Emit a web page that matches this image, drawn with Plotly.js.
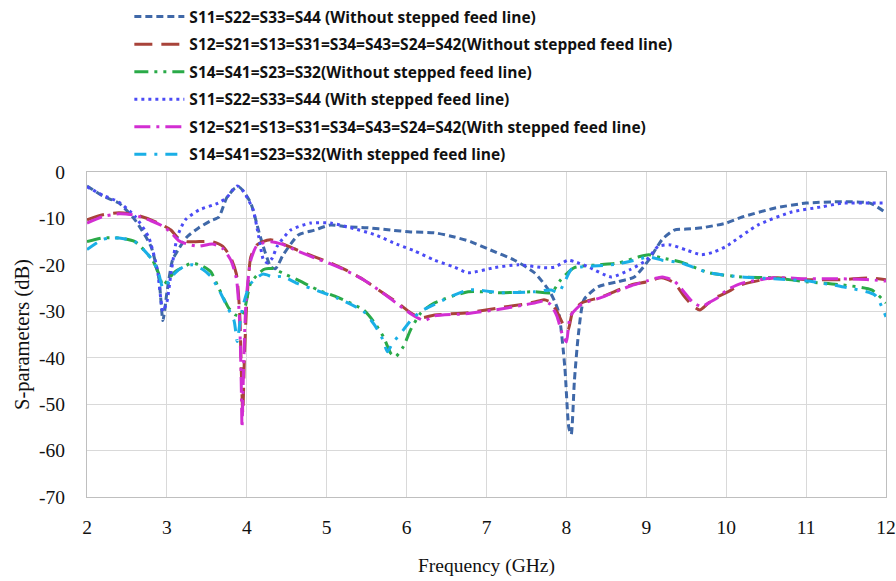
<!DOCTYPE html>
<html>
<head>
<meta charset="utf-8">
<script src="https://cdn.plot.ly/plotly-3.0.1.min.js"></script>
<style>html,body{margin:0;padding:0;background:#fff;}#chart{width:896px;height:581px;}</style>
</head>
<body>
<div id="chart"></div>
<script>
// S11=S22=S33=S44 (Without stepped feed line)
const s11aX = [2.0, 2.2, 2.4, 2.6, 2.8, 2.9, 2.95, 3.0, 3.07, 3.15, 3.25, 3.4, 3.55, 3.65, 3.75, 3.85, 3.9, 3.95, 4.05, 4.17, 4.3, 4.36, 4.45, 4.55, 4.65, 4.85, 5.05, 5.25, 5.5, 5.8, 6.05, 6.35, 6.6, 6.8, 7.05, 7.35, 7.6, 7.8, 7.9, 7.98, 8.03, 8.06, 8.1, 8.15, 8.22, 8.4, 8.65, 8.85, 9.03, 9.2, 9.35, 9.5, 9.7, 10.0, 10.2, 10.6, 11.0, 11.45, 11.8, 12.0];
const s11aY = [-3, -5.2, -6.7, -10.3, -16, -23, -32, -26, -19, -16.5, -14, -12, -10.5, -9.7, -5.5, -3.5, -3.2, -4, -6.7, -14, -20.4, -20.8, -18, -15.5, -13.5, -12.5, -11.4, -11.8, -12, -12.5, -12.9, -13.1, -14, -15, -16.8, -19, -21.7, -26, -30, -42, -55, -56.5, -45, -35, -27.5, -24.7, -23.6, -22.6, -19, -14.5, -12.5, -12.3, -12, -11, -9.7, -7.8, -6.7, -6.4, -6.7, -8.8];

// S12=S21=S13=S31=S34=S43=S24=S42 (Without stepped feed line)
const s12aX = [2.0, 2.2, 2.4, 2.6, 2.8, 2.94, 3.05, 3.14, 3.25, 3.36, 3.57, 3.7, 3.8, 3.87, 3.91, 3.93, 3.95, 3.97, 4.0, 4.05, 4.12, 4.2, 4.3, 4.45, 4.63, 4.85, 5.05, 5.25, 5.46, 5.7, 5.89, 6.05, 6.18, 6.35, 6.77, 7.18, 7.45, 7.6, 7.72, 7.8, 7.88, 7.95, 8.02, 8.08, 8.19, 8.44, 8.81, 9.0, 9.19, 9.35, 9.48, 9.58, 9.67, 9.76, 9.86, 10.0, 10.19, 10.6, 11.03, 11.45, 11.79, 12.0];
const s12aY = [-10.3, -9.2, -8.8, -9.2, -10.3, -11.4, -12.5, -14.2, -15, -15, -15, -16, -18.5, -22, -30, -42, -52, -40, -28, -18.3, -15.8, -15, -14.6, -15.5, -16.8, -18.3, -19.6, -21.2, -23.2, -26, -28.2, -30.3, -31.4, -30.8, -30.3, -29.2, -28.5, -28, -27.5, -28, -30, -32.5, -34, -30, -28.2, -26.9, -24.3, -23.7, -22.8, -23.9, -26.9, -28.8, -29.7, -28.5, -27.1, -26, -24.3, -22.8, -23.2, -23.2, -22.8, -23.2];

// S14=S41=S23=S32 (Without stepped feed line)
const s14aX = [2.0, 2.2, 2.4, 2.6, 2.82, 2.9, 2.95, 3.0, 3.1, 3.2, 3.32, 3.45, 3.55, 3.64, 3.77, 3.86, 3.92, 3.97, 4.05, 4.21, 4.33, 4.45, 4.63, 4.89, 5.14, 5.46, 5.6, 5.71, 5.8, 5.86, 5.96, 6.05, 6.18, 6.35, 6.77, 7.18, 7.6, 7.81, 7.93, 8.1, 8.4, 8.65, 8.9, 9.03, 9.19, 9.44, 9.78, 10.19, 10.6, 11.03, 11.45, 11.82, 12.0];
const s14aY = [-15, -14.2, -14.2, -15, -19, -22, -24.5, -23.5, -21.5, -20.5, -19.6, -20.3, -21.5, -24.7, -29.2, -30.8, -31, -29.7, -23.9, -21, -20.8, -21.8, -23.2, -25.4, -27, -29.7, -32.5, -35.5, -39, -39.8, -37.6, -34, -30.3, -28.2, -25.8, -26, -25.8, -26, -23.2, -20.6, -20, -19.6, -18.3, -17.8, -18.5, -19.4, -21.7, -22.6, -22.8, -23.7, -24.3, -25.4, -28.2];

// S11=S22=S33=S44 (With stepped feed line)
const s11bX = [2.0, 2.2, 2.4, 2.6, 2.77, 2.88, 2.95, 3.0, 3.05, 3.13, 3.23, 3.4, 3.64, 3.75, 3.82, 3.88, 3.95, 4.02, 4.08, 4.15, 4.21, 4.26, 4.32, 4.38, 4.55, 4.8, 5.05, 5.3, 5.6, 5.9, 6.1, 6.35, 6.6, 6.77, 7.1, 7.4, 7.72, 7.85, 8.02, 8.1, 8.27, 8.56, 8.8, 9.0, 9.15, 9.3, 9.5, 9.69, 9.85, 10.0, 10.4, 10.82, 11.2, 11.45, 11.8, 12.0];
const s11bY = [-3.2, -5, -6.5, -9.5, -14, -21, -30, -28, -22, -14, -10.3, -8.2, -6.7, -5.5, -3.9, -3, -4, -6, -8.2, -14, -19, -19.6, -18.5, -16, -12.5, -11, -11, -12, -13.5, -15.7, -17, -19, -20.5, -21.7, -20.6, -20, -20.6, -20.5, -19, -19.3, -20.4, -22.6, -21, -19, -16, -15.7, -16.8, -17.8, -17.2, -16, -11.4, -8.6, -7.5, -6.7, -6.7, -6.7];

// S12=S21=S13=S31=S34=S43=S24=S42 (With stepped feed line)
const s12bX = [2.0, 2.2, 2.4, 2.6, 2.8, 2.94, 3.05, 3.15, 3.29, 3.4, 3.57, 3.7, 3.8, 3.87, 3.91, 3.93, 3.94, 3.96, 3.99, 4.05, 4.12, 4.2, 4.3, 4.45, 4.63, 4.85, 5.05, 5.25, 5.46, 5.7, 5.89, 6.05, 6.22, 6.35, 6.77, 7.18, 7.45, 7.6, 7.72, 7.8, 7.88, 7.95, 8.0, 8.05, 8.19, 8.44, 8.81, 9.0, 9.2, 9.35, 9.48, 9.58, 9.69, 9.8, 9.9, 10.0, 10.19, 10.6, 11.03, 11.45, 11.79, 12.0];
const s12bY = [-11, -9.6, -9, -9.3, -10.5, -11.6, -13, -14.8, -15.7, -16, -15.5, -16.5, -19, -23, -32, -45, -55, -42, -28, -19, -16, -15.3, -15, -15.6, -17, -18.5, -19.8, -21.3, -23.2, -26, -28.5, -30.5, -32, -31, -30.5, -29.5, -28.7, -28.2, -27.8, -28.5, -31, -35, -36.6, -31, -28.5, -27, -24.5, -23.5, -22.6, -23.5, -26, -28, -29, -28, -27, -25.5, -24, -22.8, -23, -23, -23.2, -23.5];

// S14=S41=S23=S32 (With stepped feed line)
const s14bX = [2.0, 2.2, 2.4, 2.6, 2.82, 2.9, 2.95, 3.04, 3.1, 3.2, 3.32, 3.45, 3.55, 3.64, 3.77, 3.84, 3.88, 3.91, 3.95, 4.0, 4.05, 4.2, 4.33, 4.45, 4.63, 4.89, 5.14, 5.46, 5.6, 5.7, 5.76, 5.82, 5.96, 6.05, 6.18, 6.35, 6.77, 7.18, 7.6, 7.81, 7.9, 7.97, 8.06, 8.2, 8.4, 8.65, 8.9, 9.03, 9.2, 9.44, 9.78, 10.19, 10.6, 11.03, 11.45, 11.86, 12.0];
const s14bY = [-16.7, -14.5, -14.2, -15, -19, -22, -25, -23.2, -21.8, -20.5, -20, -21, -22.5, -25, -29.5, -32, -36.5, -33, -29, -26, -24, -22, -22.6, -22.5, -24, -25.6, -27.2, -30, -33, -36, -38.7, -37, -34, -32, -30, -28.5, -25.4, -26, -25.8, -25.4, -26, -24, -21, -20.4, -20.2, -19.8, -18.8, -18.3, -19, -19.6, -21.7, -22.6, -23, -23.5, -24.7, -26.5, -31.2];

const names = [
  'S11=S22=S33=S44 (Without stepped feed line)',
  'S12=S21=S13=S31=S34=S43=S24=S42(Without stepped feed line)',
  'S14=S41=S23=S32(Without stepped feed line)',
  'S11=S22=S33=S44 (With stepped feed line)',
  'S12=S21=S13=S31=S34=S43=S24=S42(With stepped feed line)',
  'S14=S41=S23=S32(With stepped feed line)'
];
const xTickVals = [2, 3, 4, 5, 6, 7, 8, 9, 10, 11, 12];
const yTickVals = [0, -10, -20, -30, -40, -50, -60, -70];
const yTickText = ['0', '-10', '-20', '-30', '-40', '-50', '-60', '-70'];

const styles = [
  {color: '#3F68A8', dash: '7px,4px', width: 3},
  {color: '#A8433A', dash: '18px,9px', width: 3},
  {color: '#2AAA48', dash: '14px,6px,3px,6px,3px,6px', width: 3},
  {color: '#4B4BF5', dash: '3px,4px', width: 3},
  {color: '#D22ED2', dash: '16px,6px,3px,6px', width: 3},
  {color: '#1AAFE6', dash: '12px,8px,3px,8px', width: 3}
];
const xs = [s11aX, s12aX, s14aX, s11bX, s12bX, s14bX];
const ys = [s11aY, s12aY, s14aY, s11bY, s12bY, s14bY];

const traces = xs.map((x, i) => ({
  x: x, y: ys[i], name: names[i], type: 'scatter', mode: 'lines',
  legendgroup: 'g' + i,
  line: {color: styles[i].color, dash: styles[i].dash, width: styles[i].width, shape: 'spline', smoothing: 0.6}
}));

const serif = 'Times New Roman';

const layout = {
  width: 896, height: 581,
  margin: {l: 87, r: 10, t: 172, b: 84, autoexpand: false},
  font: {family: serif, color: '#111'},
  paper_bgcolor: '#ffffff', plot_bgcolor: '#ffffff',
  showlegend: true,
  legend: {x: 0.053, y: 1.004, yref: 'container', xanchor: 'left', yanchor: 'top', tracegroupgap: 4.4,
           font: {family: 'Open Sans', size: 15.5, color: '#111', weight: 'bold'},
           bgcolor: 'rgba(0,0,0,0)', itemwidth: 50},
  xaxis: {range: [2, 12], tickvals: xTickVals, ticktext: xTickVals.map(String),
          showgrid: true, gridcolor: '#d9d9d9', gridwidth: 1,
          showline: true, linecolor: '#bfbfbf', linewidth: 1, mirror: true,
          zeroline: false, ticks: '', ticklabelstandoff: 13,
          tickfont: {family: serif, size: 19.5, color: '#111'},
          title: {text: 'Frequency (GHz)', font: {family: serif, size: 19.5, color: '#111'}, standoff: 20}},
  yaxis: {range: [-70, 0], tickvals: yTickVals, ticktext: yTickText,
          showgrid: true, gridcolor: '#d9d9d9', gridwidth: 1,
          showline: true, linecolor: '#bfbfbf', linewidth: 1, mirror: true,
          zeroline: false, ticks: '', ticklabelstandoff: 17,
          tickfont: {family: serif, size: 19.5, color: '#111'},
          title: {text: 'S-parameters (dB)', font: {family: serif, size: 20.5, color: '#111'}, standoff: 3}}
};

Plotly.newPlot('chart', traces, layout, {displayModeBar: false, staticPlot: true});
</script>
</body>
</html>
